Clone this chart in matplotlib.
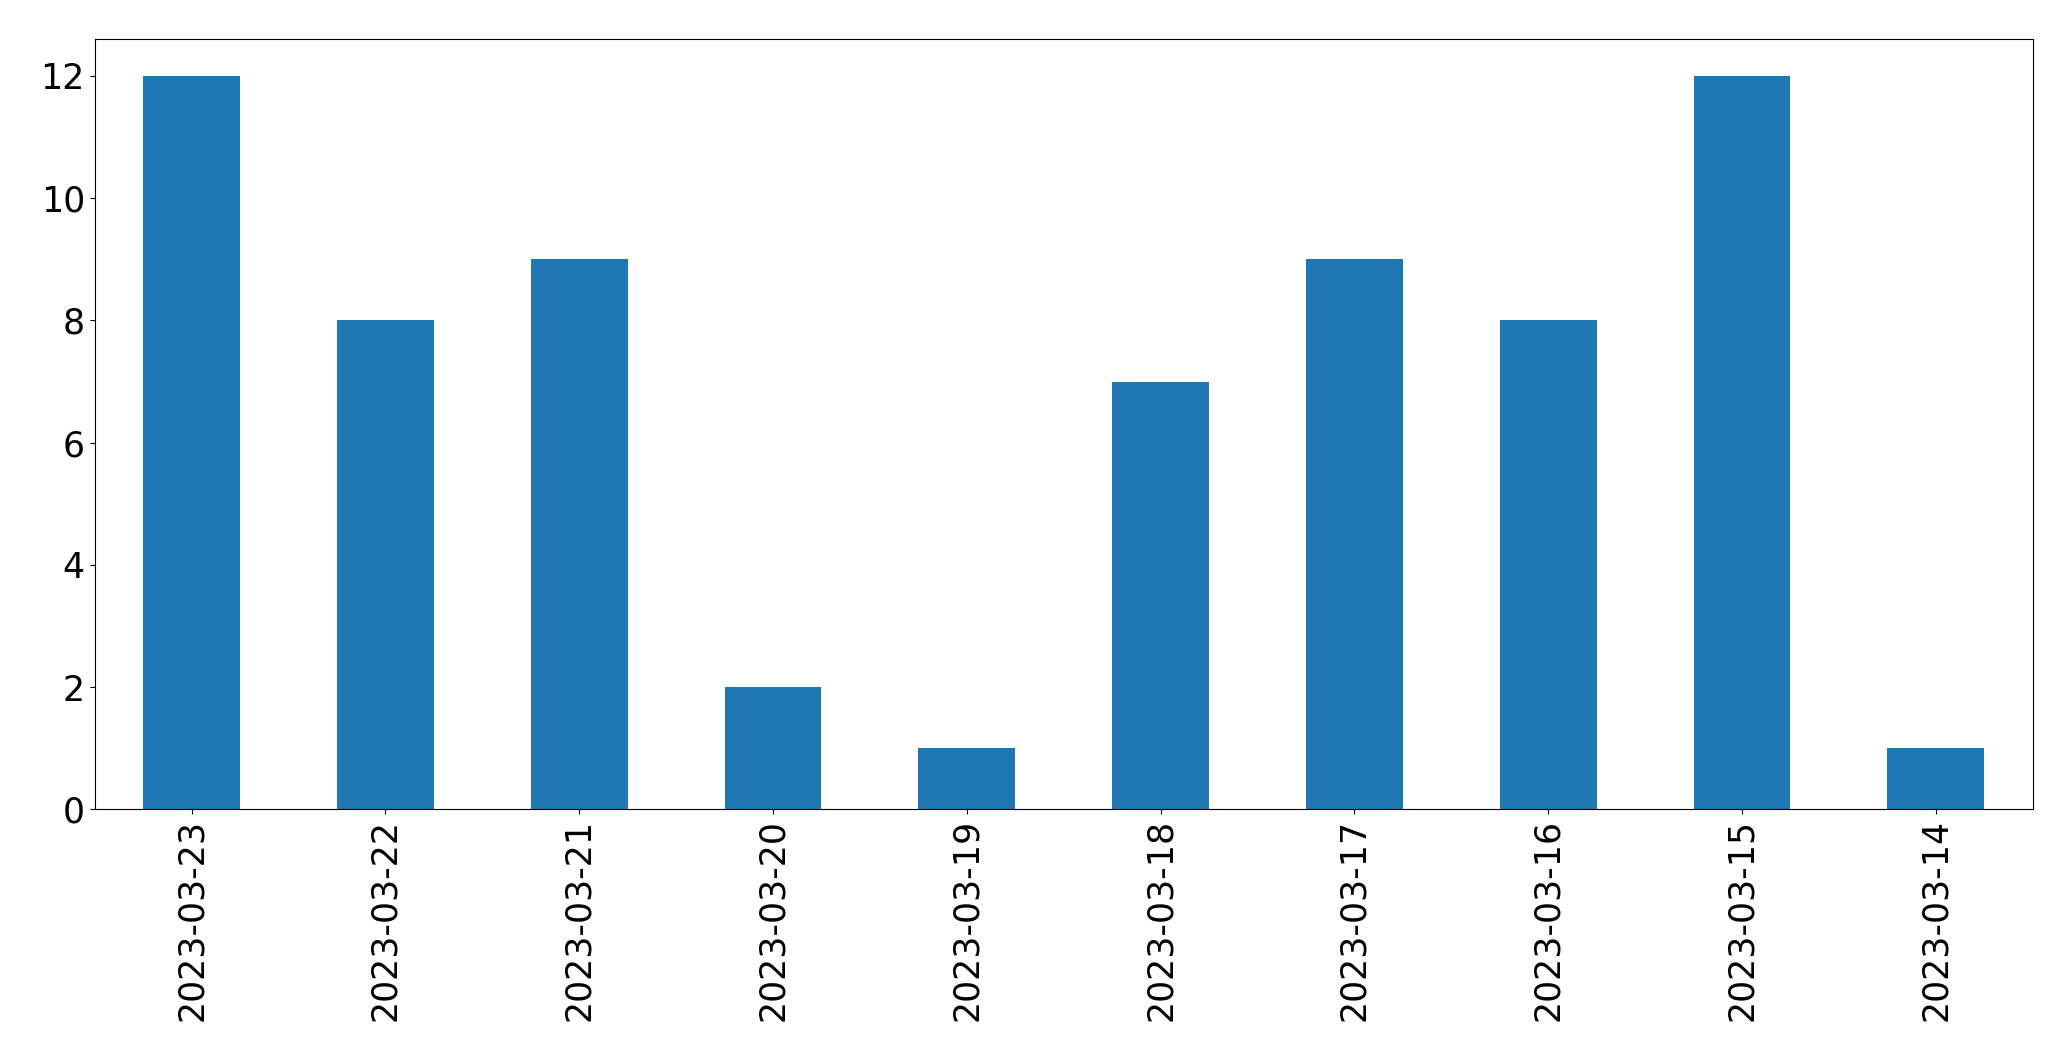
import matplotlib
matplotlib.use("Agg")
import matplotlib.pyplot as plt
import pandas as pd

# daily counts, newest first
dates = ["2023-03-23", "2023-03-22", "2023-03-21", "2023-03-20", "2023-03-19",
         "2023-03-18", "2023-03-17", "2023-03-16", "2023-03-15", "2023-03-14"]
counts = [12, 8, 9, 2, 1, 7, 9, 8, 12, 1]

series = pd.Series(counts, index=dates)

fig, ax = plt.subplots(figsize=(20.71, 10.61), dpi=100)
series.plot(kind="bar", ax=ax, color="#1f77b4", width=0.5)

ax.tick_params(axis="both", labelsize=25)
fig.subplots_adjust(left=0.0457, right=0.9815, top=0.963, bottom=0.2372)

fig.savefig("out.png", dpi=100)
